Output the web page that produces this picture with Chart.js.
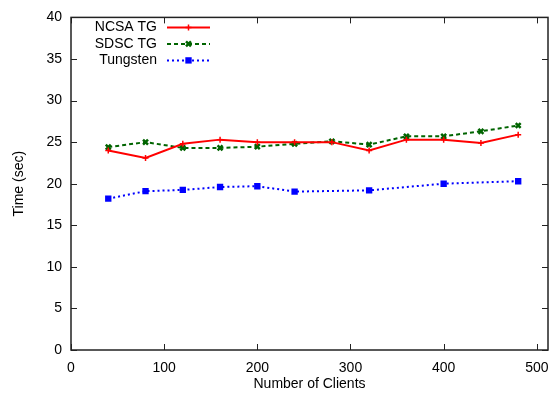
<!DOCTYPE html>
<html>
<head>
<meta charset="utf-8">
<script src="https://cdn.jsdelivr.net/npm/chart.js@4/dist/chart.umd.min.js"></script>
<style>
  html, body { margin: 0; padding: 0; background: #fff; }
  #wrap { width: 560px; height: 404px; }
</style>
</head>
<body>
<div id="wrap"><canvas id="clientsChart"></canvas></div>
<script>
// Response time vs. number of clients
const clients = [40, 80, 120, 160, 200, 240, 280, 320, 360, 400, 440, 480];
const ncsaTimes = [24.0, 23.1, 24.8, 25.3, 25.0, 25.0, 25.0, 24.0, 25.3, 25.3, 24.9, 25.9];
const sdscTimes = [24.4, 25.0, 24.3, 24.3, 24.45, 24.8, 25.1, 24.7, 25.7, 25.7, 26.3, 27.0];
const tungstenClients = [40, 80, 120, 160, 200, 240, 320, 400, 480];
const tungstenTimes = [18.2, 19.1, 19.25, 19.6, 19.7, 19.05, 19.2, 20.0, 20.3];
const seriesNames = ["NCSA TG", "SDSC TG", "Tungsten"];
const xTickValues = [0, 100, 200, 300, 400, 500];

const FONT = "'Liberation Sans', Arial, sans-serif";

function toPoints(xs, ys) {
    return xs.map((x, i) => ({ x: x, y: ys[i] }));
}

// border box with inward tick marks on all four sides
const framePlugin = {
    id: "frame",
    beforeDatasetsDraw(chart) {
        const { ctx, chartArea: a, scales } = chart;
        const len = 6;
        ctx.save();
        ctx.strokeStyle = "#222";
        ctx.lineWidth = 1;
        ctx.beginPath();
        scales.x.ticks.forEach(t => {
            const px = Math.round(scales.x.getPixelForValue(t.value)) + 0.5;
            ctx.moveTo(px, a.bottom); ctx.lineTo(px, a.bottom - len);
            ctx.moveTo(px, a.top); ctx.lineTo(px, a.top + len);
        });
        scales.y.ticks.forEach(t => {
            const py = Math.round(scales.y.getPixelForValue(t.value)) + 0.5;
            ctx.moveTo(a.left, py); ctx.lineTo(a.left + len, py);
            ctx.moveTo(a.right, py); ctx.lineTo(a.right - len, py);
        });
        ctx.stroke();
        ctx.lineWidth = 1.5;
        ctx.strokeRect(a.left, a.top, a.right - a.left, a.bottom - a.top);
        ctx.restore();
    }
};

// key in the upper left: name right-aligned, then a line sample with its marker
const keyPlugin = {
    id: "key",
    afterDraw(chart) {
        const { ctx, chartArea: a } = chart;
        const textRight = a.left + 86;
        const x0 = a.left + 96, x1 = a.left + 139;
        ctx.save();
        ctx.font = "14px " + FONT;
        ctx.textAlign = "right";
        ctx.textBaseline = "middle";
        chart.data.datasets.forEach((ds, i) => {
            const y = a.top + 10 + i * 16.5;
            ctx.fillStyle = "#000";
            ctx.fillText(ds.label, textRight, y);
            ctx.strokeStyle = ds.borderColor;
            ctx.lineWidth = ds.borderWidth;
            ctx.setLineDash(ds.borderDash || []);
            ctx.beginPath();
            ctx.moveTo(x0, y); ctx.lineTo(x1, y);
            ctx.stroke();
            ctx.setLineDash([]);
            ctx.fillStyle = ds.pointBackgroundColor;
            ctx.strokeStyle = ds.pointBorderColor;
            ctx.lineWidth = ds.pointBorderWidth;
            Chart.helpers.drawPoint(ctx, {
                pointStyle: ds.pointStyle,
                radius: ds.pointRadius,
                borderWidth: ds.pointBorderWidth,
                rotation: 0
            }, (x0 + x1) / 2, y);
        });
        ctx.restore();
    }
};

new Chart(document.getElementById("clientsChart"), {
    type: "line",
    data: {
        datasets: [
            {
                label: seriesNames[0],
                data: toPoints(clients, ncsaTimes),
                borderColor: "#ff0000",
                borderWidth: 2,
                pointStyle: "cross",
                pointRadius: 3,
                pointBorderWidth: 1.5,
                pointBorderColor: "#ff0000",
                pointBackgroundColor: "#ff0000",
                tension: 0
            },
            {
                label: seriesNames[1],
                data: toPoints(clients, sdscTimes),
                borderColor: "#006400",
                borderWidth: 2,
                borderDash: [4, 3],
                pointStyle: "crossRot",
                pointRadius: 3.5,
                pointBorderWidth: 2.5,
                pointBorderColor: "#006400",
                pointBackgroundColor: "#006400",
                tension: 0
            },
            {
                label: seriesNames[2],
                data: toPoints(tungstenClients, tungstenTimes),
                borderColor: "#0000ff",
                borderWidth: 2,
                borderDash: [2, 3],
                pointStyle: "rect",
                pointRadius: 4.5,
                pointBorderWidth: 0,
                pointBorderColor: "#0000ff",
                pointBackgroundColor: "#0000ff",
                tension: 0
            }
        ]
    },
    options: {
        responsive: true,
        maintainAspectRatio: false,
        animation: false,
        layout: { padding: { top: 13, right: 12, left: 0, bottom: 0 } },
        plugins: {
            legend: { display: false },
            tooltip: { enabled: false }
        },
        scales: {
            x: {
                type: "linear",
                min: 0,
                max: 512,
                grid: { display: false, drawTicks: false },
                border: { display: false },
                afterBuildTicks(scale) {
                    scale.ticks = xTickValues.map(v => ({ value: v }));
                },
                afterFit(scale) { scale.height = 54; },
                ticks: {
                    maxRotation: 0,
                    autoSkip: false,
                    padding: 10,
                    color: "#000",
                    font: { family: FONT, size: 14 }
                },
                title: {
                    display: true,
                    text: "Number of Clients",
                    color: "#000",
                    font: { family: FONT, size: 14 },
                    padding: { top: 0, bottom: 11 }
                }
            },
            y: {
                min: 0,
                max: 40,
                grid: { display: false, drawTicks: false },
                border: { display: false },
                afterFit(scale) { scale.width = 71; },
                ticks: {
                    stepSize: 5,
                    padding: 9,
                    color: "#000",
                    font: { family: FONT, size: 14 }
                },
                title: {
                    display: true,
                    text: "Time (sec)",
                    color: "#000",
                    font: { family: FONT, size: 14 },
                    padding: { top: 11, bottom: 0 }
                }
            }
        }
    },
    plugins: [framePlugin, keyPlugin]
});
</script>
</body>
</html>
